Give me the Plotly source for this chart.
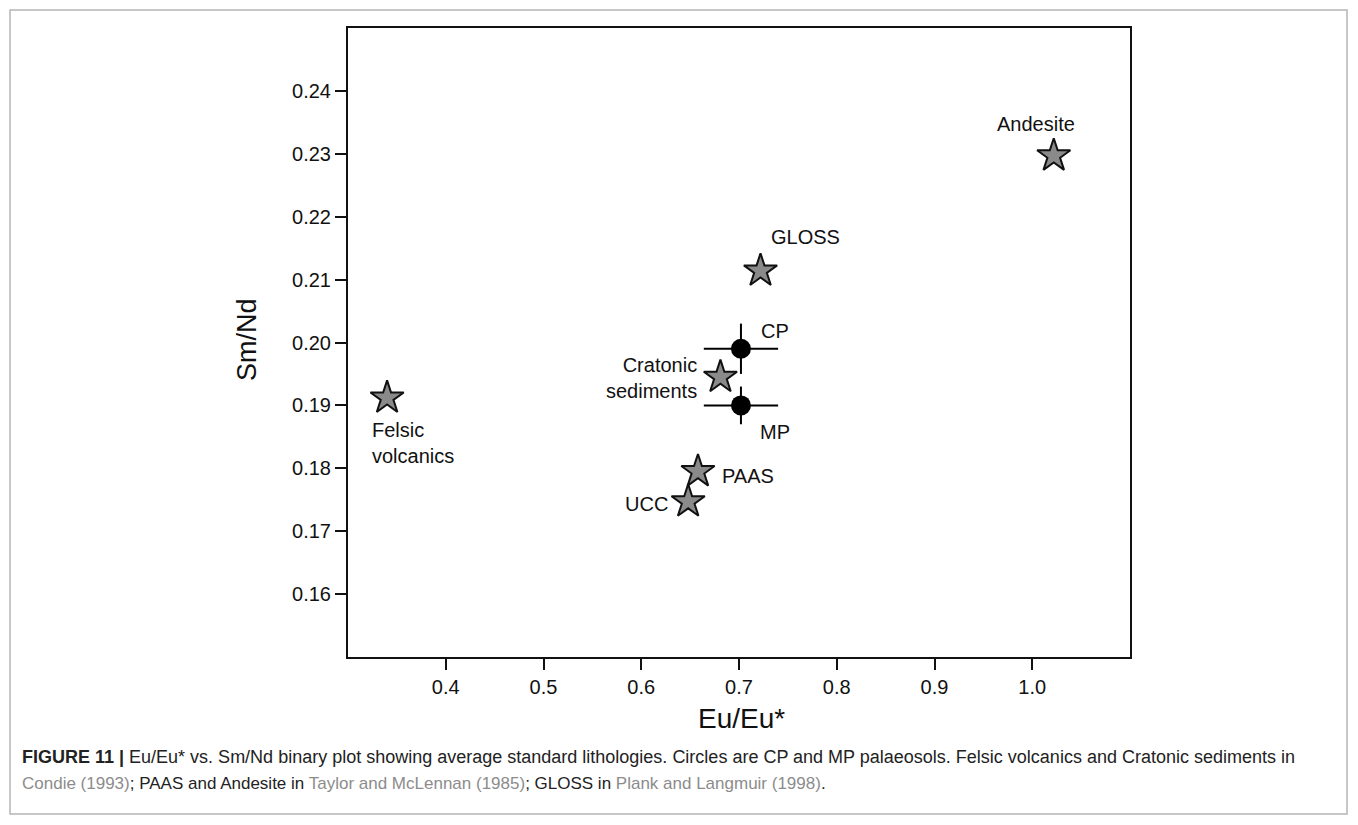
import plotly.graph_objects as go

# ---- data ----
star_names = ["Andesite", "GLOSS", "Cratonic sediments", "Felsic volcanics", "PAAS", "UCC"]
star_eu = [1.022, 0.722, 0.681, 0.340, 0.658, 0.648]
star_smnd = [0.2297, 0.2114, 0.1945, 0.1912, 0.1795, 0.1747]

paleo_names = ["CP", "MP"]
paleo_eu = [0.702, 0.702]
paleo_smnd = [0.1990, 0.1900]
paleo_eu_err = [0.038, 0.038]
paleo_smnd_err = [0.004, 0.003]

x_ticks = [0.4, 0.5, 0.6, 0.7, 0.8, 0.9, 1.0]
x_ticklabels = ["0.4", "0.5", "0.6", "0.7", "0.8", "0.9", "1.0"]
y_ticks = [0.16, 0.17, 0.18, 0.19, 0.20, 0.21, 0.22, 0.23, 0.24]
y_ticklabels = ["0.16", "0.17", "0.18", "0.19", "0.20", "0.21", "0.22", "0.23", "0.24"]

# label placements (text, x, y, xanchor)
label_text = ["Andesite", "GLOSS", "CP", "MP", "Cratonic<br>sediments", "Felsic<br>volcanics", "PAAS", "UCC"]
label_x = [1.004, 0.731, 0.720, 0.719, 0.659, 0.322, 0.681, 0.629]
label_y = [0.2348, 0.2168, 0.2019, 0.1858, 0.1944, 0.1840, 0.1788, 0.1743]
label_anchor = ["center", "left", "left", "left", "right", "left", "left", "right"]

caption_line1 = ("<b>FIGURE 11 |</b> Eu/Eu* vs. Sm/Nd binary plot showing average standard lithologies. "
                 "Circles are CP and MP palaeosols. Felsic volcanics and Cratonic sediments in")
caption_line2 = ("<span style='color:#8c8c8c'>Condie (1993)</span>; PAAS and Andesite in "
                 "<span style='color:#8c8c8c'>Taylor and McLennan (1985)</span>; GLOSS in "
                 "<span style='color:#8c8c8c'>Plank and Langmuir (1998)</span>.")

FONT = "Liberation Sans, Arial, Helvetica, sans-serif"

fig = go.Figure()

fig.add_trace(go.Scatter(
    x=paleo_eu, y=paleo_smnd, mode="markers",
    marker=dict(symbol="circle", size=20, color="black"),
    error_x=dict(type="data", array=paleo_eu_err, color="black", thickness=2, width=0),
    error_y=dict(type="data", array=paleo_smnd_err, color="black", thickness=2, width=0),
    showlegend=False, hoverinfo="skip",
))

fig.add_trace(go.Scatter(
    x=star_eu, y=star_smnd, mode="markers",
    marker=dict(symbol="star", size=25, color="#8a8a8a", line=dict(color="#111111", width=2)),
    showlegend=False, text=star_names, hoverinfo="text",
))

# page body adds an 8px offset; work in reference pixels and compensate
OFF = 8
W, H = 1358 - OFF, 825 - OFF
L, R, T, B = 348 - OFF, 1130 - OFF, 28 - OFF, 657 - OFF
pw, ph = R - L, B - T


def px(xp):
    return (xp - OFF - L) / pw


def py(yp):
    return (B - (yp - OFF)) / ph


annotations = []
for t, x, y, a in zip(label_text, label_x, label_y, label_anchor):
    annotations.append(dict(x=x, y=y, xref="x", yref="y", text=t, showarrow=False,
                            xanchor=a, yanchor="middle", align=a,
                            font=dict(family=FONT, size=20, color="#111111")))

annotations.append(dict(x=px(247), y=py(340), xref="paper", yref="paper", text="Sm/Nd",
                        textangle=-90, showarrow=False, xanchor="center", yanchor="middle",
                        font=dict(family=FONT, size=27, color="#111111")))
annotations.append(dict(x=px(741), y=py(718), xref="paper", yref="paper", text="Eu/Eu*",
                        showarrow=False, xanchor="center", yanchor="middle",
                        font=dict(family=FONT, size=28, color="#111111")))
annotations.append(dict(x=px(20), y=py(757), xref="paper", yref="paper", text=caption_line1,
                        showarrow=False, xanchor="left", yanchor="middle", align="left",
                        font=dict(family=FONT, size=18, color="#222222")))
annotations.append(dict(x=px(20), y=py(783), xref="paper", yref="paper", text=caption_line2,
                        showarrow=False, xanchor="left", yanchor="middle", align="left",
                        font=dict(family=FONT, size=17, color="#222222")))

shapes = [dict(type="rect", xref="paper", yref="paper",
               x0=px(10), x1=px(1347), y0=py(10), y1=py(814),
               line=dict(color="#b5b5b5", width=1.5), fillcolor="rgba(0,0,0,0)", layer="below")]

fig.update_layout(
    width=W, height=H,
    margin=dict(l=L, r=W - R, t=T, b=H - B, pad=0),
    paper_bgcolor="white", plot_bgcolor="white",
    annotations=annotations, shapes=shapes,
    xaxis=dict(range=[0.3, 1.1], tickvals=x_ticks, ticktext=x_ticklabels,
               showgrid=False, zeroline=False, showline=True, mirror=True,
               linecolor="#111111", linewidth=2, ticks="outside", ticklen=11,
               tickwidth=2, tickcolor="#111111",
               tickfont=dict(family=FONT, size=20, color="#111111")),
    yaxis=dict(range=[0.15, 0.25], tickvals=y_ticks, ticktext=y_ticklabels,
               showgrid=False, zeroline=False, showline=True, mirror=True,
               linecolor="#111111", linewidth=2, ticks="outside", ticklen=11,
               tickwidth=2, tickcolor="#111111",
               tickfont=dict(family=FONT, size=20, color="#111111")),
)

fig.write_html("out.html")
